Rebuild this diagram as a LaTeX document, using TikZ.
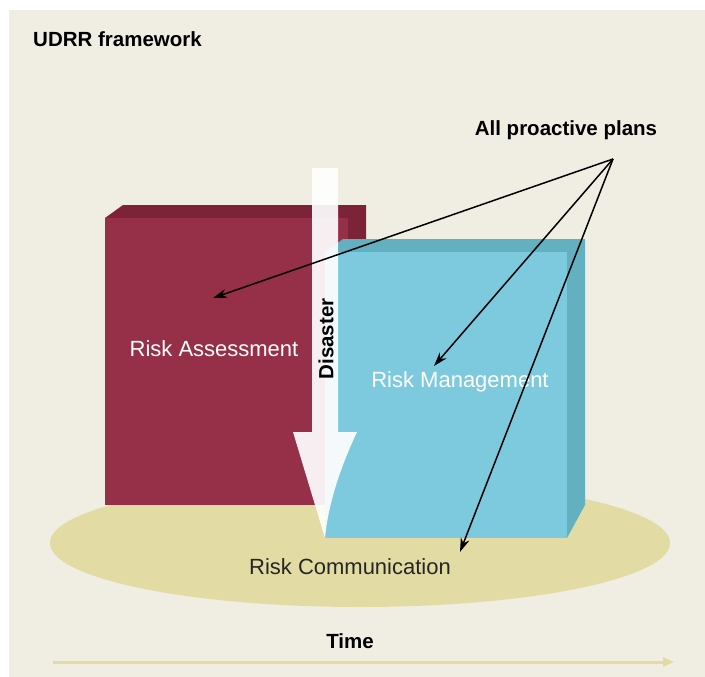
\documentclass[tikz,border=0pt]{standalone}
\usepackage{fontspec}
\setmainfont{Liberation Sans}
\usetikzlibrary{%
  arrows.meta,% Stealth, Triangle
  positioning%
}
\definecolor{panel}{HTML}{F0EEE2}
\definecolor{ground}{HTML}{E2DCA4}
\definecolor{wine}{HTML}{962F48}
\definecolor{winedark}{HTML}{7D2338}
\definecolor{sky}{HTML}{7DCADF}
\definecolor{skydark}{HTML}{62B0C0}
\definecolor{inkgray}{HTML}{262626}
\tikzset{
  boldlabel/.style={font=\fontsize{20.5}{24}\selectfont\bfseries, text=black, inner sep=0},
  facelabel/.style={font=\fontsize{22}{26}\selectfont, text=white, inner sep=0},
  pointer/.style={draw, line width=1.5pt, -{Stealth[length=14pt,width=9pt]}},
}

\begin{document}
\begin{tikzpicture}[x=1pt,y=-1pt]
      \useasboundingbox (0,0) rectangle (705,677);
      \fill[white] (0,0) rectangle (705,677);
      \fill[panel] (9,10) rectangle (705,677);

      % ground disc
      \fill[ground] (360,543) ellipse [x radius=310pt, y radius=64pt];

      % red block
      \fill[winedark] (105,218) -- (123,205) -- (366,205) -- (366,492) -- (348,505) -- (348,218) -- cycle;
      \fill[wine] (105,218) rectangle (348,505);

      % blue block
      \fill[skydark] (325,252) -- (343,239) -- (585,239) -- (585,505) -- (567,538) -- (567,252) -- cycle;
      \fill[sky] (325,252) rectangle (567,538);

      % disaster arrow
      \fill[white, opacity=0.92] (312,168) -- (338,168) -- (338,432) -- (357,432)
        .. controls (340,468) and (328,505) .. (325,538) -- (293,432) -- (312,432) -- cycle;

      \node[boldlabel, anchor=west] (title) at (33,39) {UDRR framework};
      \node[boldlabel] (plans) at (566,130) {All proactive plans};
      \node[facelabel] (assess) at (214,349) {Risk Assessment};
      \node[facelabel] (manage) at (460,382) {Risk Management};
      \node[facelabel, text=inkgray] (comm) at (350,567) {Risk Communication};
      \node[boldlabel] (time) at (350,641) {Time};
      \node[boldlabel, rotate=90] (disaster) at (326,339) {Disaster};

      \coordinate (hub) at (613,159);
      \coordinate (inassess) at (213,298);
      \coordinate (inmanage) at (434,366);
      \coordinate (incomm) at (460,552);
      \coordinate (t0) at (53,662);
      \coordinate (t1) at (674,662);

      \path [pointer] (hub) -- (inassess);
      \path [pointer] (hub) -- (inmanage);
      \path [pointer] (hub) -- (incomm);
      \path [draw, ground, line width=3pt, -{Triangle[length=11pt,width=9pt]}] (t0) -- (t1);
\end{tikzpicture}
\end{document}
